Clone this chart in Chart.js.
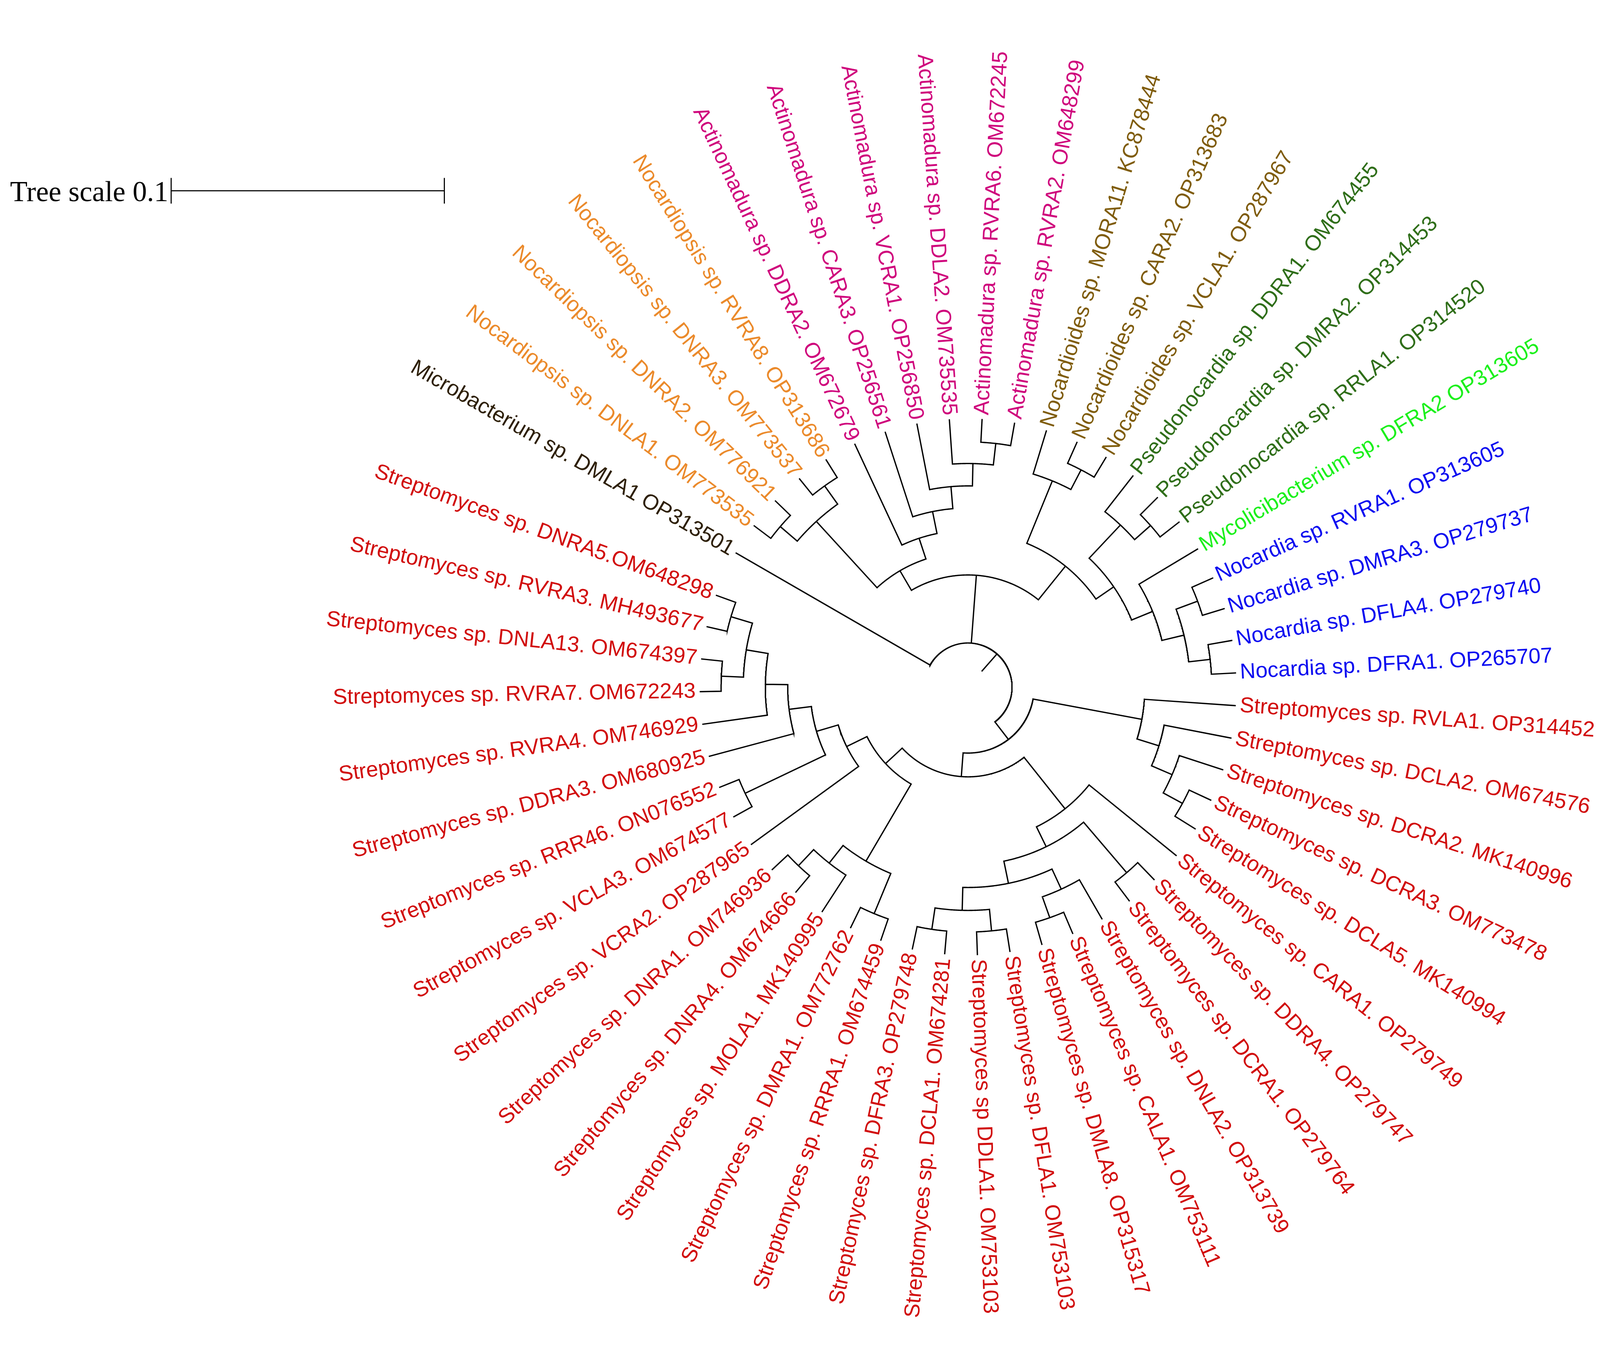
<!DOCTYPE html>
<html>
<head>
<meta charset="utf-8">
<script src="https://cdn.jsdelivr.net/npm/chart.js@4.4.1/dist/chart.umd.min.js"></script>
<style>
  html, body { margin: 0; padding: 0; background: #ffffff; overflow: hidden; }
  #wrap { width: 100vw; height: 100vh; position: relative; }
</style>
</head>
<body>
<div id="wrap"><canvas id="tree"></canvas></div>
<script>
// ---------------- DATA ----------------
// Leaves in clockwise order (index 1..51 used in the Newick clades below)
const leafNames = [
  "Microbacterium sp. DMLA1 OP313501",
  "Nocardiopsis sp. DNLA1. OM773535",
  "Nocardiopsis sp. DNRA2. OM776921",
  "Nocardiopsis sp. DNRA3. OM773537",
  "Nocardiopsis sp. RVRA8. OP313686",
  "Actinomadura sp. DDRA2. OM672679",
  "Actinomadura sp. CARA3. OP256561",
  "Actinomadura sp. VCRA1. OP256850",
  "Actinomadura sp. DDLA2. OM735535",
  "Actinomadura sp. RVRA6. OM672245",
  "Actinomadura sp. RVRA2. OM648299",
  "Nocardioides sp. MORA11. KC878444",
  "Nocardioides sp. CARA2. OP313683",
  "Nocardioides sp. VCLA1. OP287967",
  "Pseudonocardia sp. DDRA1. OM674455",
  "Pseudonocardia sp. DMRA2. OP314453",
  "Pseudonocardia sp. RRLA1. OP314520",
  "Mycolicibacterium sp. DFRA2 OP313605",
  "Nocardia sp. RVRA1. OP313605",
  "Nocardia sp. DMRA3. OP279737",
  "Nocardia sp. DFLA4. OP279740",
  "Nocardia sp. DFRA1. OP265707",
  "Streptomyces sp. RVLA1. OP314452",
  "Streptomyces sp. DCLA2. OM674576",
  "Streptomyces sp. DCRA2. MK140996",
  "Streptomyces sp. DCRA3. OM773478",
  "Streptomyces sp. DCLA5. MK140994",
  "Streptomyces sp. CARA1. OP279749",
  "Streptomyces sp. DDRA4. OP279747",
  "Streptomyces sp. DCRA1. OP279764",
  "Streptomyces sp. DNLA2. OP313739",
  "Streptomyces sp. CALA1. OM753111",
  "Streptomyces sp. DMLA8. OP315317",
  "Streptomyces sp. DFLA1. OM753103",
  "Streptomyces sp DDLA1. OM753103",
  "Streptomyces sp. DCLA1. OM674281",
  "Streptomyces sp. DFRA3. OP279748",
  "Streptomyces sp. RRRA1. OM674459",
  "Streptomyces sp. DMRA1. OM772762",
  "Streptomyces sp. MOLA1. MK140995",
  "Streptomyces sp. DNRA4. OM674666",
  "Streptomyces sp. DNRA1. OM746936",
  "Streptomyces sp. VCRA2. OP287965",
  "Streptomyces sp. VCLA3. OM674577",
  "Streptomyces sp. RRR46. ON076552",
  "Streptomyces sp. DDRA3. OM680925",
  "Streptomyces sp. RVRA4. OM746929",
  "Streptomyces sp. RVRA7. OM672243",
  "Streptomyces sp. DNLA13. OM674397",
  "Streptomyces sp. RVRA3. MH493677",
  "Streptomyces sp. DNRA5.OM648298"
];

const genusColors = {
  "Microbacterium": "#2e2008",
  "Nocardiopsis": "#eb8a2b",
  "Actinomadura": "#cf047c",
  "Nocardioides": "#7f5c0b",
  "Pseudonocardia": "#2f6e19",
  "Mycolicibacterium": "#1cf01c",
  "Nocardia": "#0b0bf0",
  "Streptomyces": "#d10b0b"
};

// Tree topology with branch lengths (Newick pieces, leaves referenced by index)
const cladeNocardiopsis = "((2:0.0076,3:0.0076):0.0082,(4:0.0076,5:0.0076):0.0082):0.0329";
const cladeActinomadura = "(6:0.0407,(7:0.0325,(8:0.0244,(9:0.0162,(10:0.0083,11:0.0083):0.0079):0.0082):0.0081):0.0082):0.0080";
const cladeNocardioides = "(12:0.0165,(13:0.0084,14:0.0084):0.0081):0.0247";
const cladePseudonocardia = "(15:0.0166,(16:0.0088,17:0.0088):0.0078):0.0167";
const cladeNocardia = "(18:0.0250,((19:0.0083,20:0.0083):0.0084,(21:0.0088,22:0.0088):0.0079):0.0083):0.0083";
const cladeStrepA = "(23:0.0333,(24:0.0249,(25:0.0167,(26:0.0087,27:0.0087):0.0080):0.0082):0.0084):0.0405";
const cladeStrepB = "(28:0.0410,((29:0.0086,30:0.0086):0.0243,((31:0.0165,(32:0.0084,33:0.0084):0.0081):0.0081,((34:0.0083,35:0.0083):0.0079,(36:0.0083,37:0.0083):0.0079):0.0084):0.0083):0.0081):0.0241";
const cladeStrepC = "((38:0.0082,39:0.0082):0.0159,(40:0.0159,(41:0.0078,42:0.0078):0.0081):0.0082):0.0327";
const cladeStrepD = "(43:0.0485,((44:0.0076,45:0.0076):0.0326,(46:0.0320,(47:0.0238,((48:0.0076,49:0.0076):0.0081,(50:0.0075,51:0.0075):0.0082):0.0081):0.0082):0.0082):0.0083):0.0083";

const treeNewick =
  "((1:0.0819," +
    "((" + cladeNocardiopsis + "," + cladeActinomadura + "):0.0083," +
     "(" + cladeNocardioides + ",(" + cladePseudonocardia + "," + cladeNocardia + "):0.0079):0.0158):0.0249," +
    "(" + cladeStrepA + ",(" + cladeStrepB + ",(" + cladeStrepC + "," + cladeStrepD + "):0.0083):0.0087):0.0081" +
  "):0.0083);";

const rootOffset = 0.0078;      // distance of the root node from the centre
const treeScaleValue = 0.1;
const treeScaleLabel = "Tree scale 0.1";
const firstLeafAngle = 150;     // degrees, counter-clockwise from east
const arcDegrees = 357;

// ---------------- LAYOUT CONSTANTS (reference frame 4375 x 3510) ----------------
const REF_W = 4375, REF_H = 3510;
const pxPerUnit = 7470;
const centerPx = { x: 2647, y: 1759 };
const labelGap = 0.0017;
const labelFontPx = 59;
const scaleFontPx = 78;
const scaleBarPx = { x: 468, y: 402 };
const scaleTickHalf = 0.0047;
const branchWidthPx = 3.6;

// fit the reference frame uniformly into the actual viewport (keeps circles round)
const wrapEl = document.getElementById('wrap');
const VW = wrapEl.clientWidth, VH = wrapEl.clientHeight;
const S = Math.min(VW / REF_W, VH / REF_H);
const offX = (VW - REF_W * S) / 2, offY = (VH - REF_H * S) / 2;
const xMin = (-offX / S - centerPx.x) / pxPerUnit;
const xMax = ((VW - offX) / S - centerPx.x) / pxPerUnit;
const yMax = (centerPx.y + offY / S) / pxPerUnit;
const yMin = (centerPx.y - (VH - offY) / S) / pxPerUnit;

// ---------------- TREE BUILD ----------------
function parseNewick(s) {
  let i = 0;
  function node() {
    const n = { children: [], len: 0, name: null };
    if (s[i] === '(') {
      i++;
      n.children.push(node());
      while (s[i] === ',') { i++; n.children.push(node()); }
      i++; // ')'
    }
    let name = '';
    while (i < s.length && !':,();'.includes(s[i])) name += s[i++];
    if (name) n.name = name;
    if (s[i] === ':') {
      i++;
      let num = '';
      while (i < s.length && !',();'.includes(s[i])) num += s[i++];
      n.len = parseFloat(num);
    }
    return n;
  }
  return node();
}

const step = arcDegrees / leafNames.length;
function layout(n, depth) {
  n.r = depth + n.len;
  if (!n.children.length) {
    n.leaf = parseInt(n.name, 10);
    n.angle = firstLeafAngle - (n.leaf - 1) * step;
  } else {
    n.children.forEach(c => layout(c, n.r));
    const as = n.children.map(c => c.angle);
    n.angle = (Math.max(...as) + Math.min(...as)) / 2;
  }
}
const root = parseNewick(treeNewick);
layout(root, rootOffset);

const rad = d => d * Math.PI / 180;
const polar = (r, a) => ({ x: r * Math.cos(rad(a)), y: r * Math.sin(rad(a)) });
const GAP = { x: null, y: null };

const branchPts = [];
const leaves = [];
(function walk(n, parent) {
  if (parent) branchPts.push(polar(parent.r, n.angle), polar(n.r, n.angle), GAP);
  if (n.children.length > 1) {
    const as = n.children.map(c => c.angle);
    const a0 = Math.min(...as), a1 = Math.max(...as);
    const nSeg = Math.max(2, Math.ceil((a1 - a0) / 0.25));
    for (let k = 0; k <= nSeg; k++) branchPts.push(polar(n.r, a0 + (a1 - a0) * k / nSeg));
    branchPts.push(GAP);
  }
  if (!n.children.length) leaves.push(n);
  n.children.forEach(c => walk(c, n));
})(root, null);

leaves.sort((a, b) => a.leaf - b.leaf);
const anchorPts = leaves.map(l => polar(l.r + labelGap, l.angle));

// scale bar in tree units
const sbX0 = (scaleBarPx.x - centerPx.x) / pxPerUnit;
const sbY0 = (centerPx.y - scaleBarPx.y) / pxPerUnit;
const scalePts = [
  { x: sbX0, y: sbY0 }, { x: sbX0 + treeScaleValue, y: sbY0 }, GAP,
  { x: sbX0, y: sbY0 - scaleTickHalf }, { x: sbX0, y: sbY0 + scaleTickHalf }, GAP,
  { x: sbX0 + treeScaleValue, y: sbY0 - scaleTickHalf }, { x: sbX0 + treeScaleValue, y: sbY0 + scaleTickHalf }
];

// ---------------- LABEL PLUGIN ----------------
const labelPlugin = {
  id: 'leafLabels',
  afterDatasetsDraw(chart) {
    const ctx = chart.ctx;
    const meta = chart.getDatasetMeta(2);
    ctx.save();
    ctx.font = (labelFontPx * S) + 'px "Liberation Sans", Arial, sans-serif';
    ctx.textBaseline = 'middle';
    meta.data.forEach((pt, i) => {
      const leaf = leaves[i];
      const name = leafNames[leaf.leaf - 1];
      const genus = name.split(' ')[0];
      const flip = Math.cos(rad(leaf.angle)) < 0;
      ctx.save();
      ctx.translate(pt.x, pt.y);
      ctx.rotate(-rad(leaf.angle) + (flip ? Math.PI : 0));
      ctx.textAlign = flip ? 'right' : 'left';
      ctx.fillStyle = genusColors[genus] || '#000';
      ctx.fillText(name, 0, 0);
      ctx.restore();
    });
    // tree scale caption
    const sm = chart.getDatasetMeta(1).data[0];
    ctx.font = (scaleFontPx * S) + 'px "Liberation Serif", "Times New Roman", serif';
    ctx.textAlign = 'right';
    ctx.textBaseline = 'alphabetic';
    ctx.fillStyle = '#000';
    ctx.fillText(treeScaleLabel, sm.x - 8 * S, sm.y + 29 * S);
    ctx.restore();
  }
};

// ---------------- CHART ----------------
new Chart(document.getElementById('tree'), {
  type: 'line',
  data: {
    datasets: [
      { label: 'branches', data: branchPts, borderColor: '#000',
        borderWidth: branchWidthPx * S,
        pointRadius: 0, fill: false, tension: 0, spanGaps: false,
        borderCapStyle: 'square', borderJoinStyle: 'miter', clip: false },
      { label: 'scale', data: scalePts, borderColor: '#000',
        borderWidth: 3 * S,
        pointRadius: 0, fill: false, tension: 0, spanGaps: false, clip: false },
      { label: 'anchors', data: anchorPts, showLine: false, pointRadius: 0, borderWidth: 0 }
    ]
  },
  options: {
    responsive: true,
    maintainAspectRatio: false,
    animation: false,
    events: [],
    layout: { padding: 0 },
    plugins: { legend: { display: false }, tooltip: { enabled: false }, title: { display: false } },
    scales: {
      x: { type: 'linear', display: false, min: xMin, max: xMax },
      y: { type: 'linear', display: false, min: yMin, max: yMax }
    }
  },
  plugins: [labelPlugin]
});
</script>
</body>
</html>
